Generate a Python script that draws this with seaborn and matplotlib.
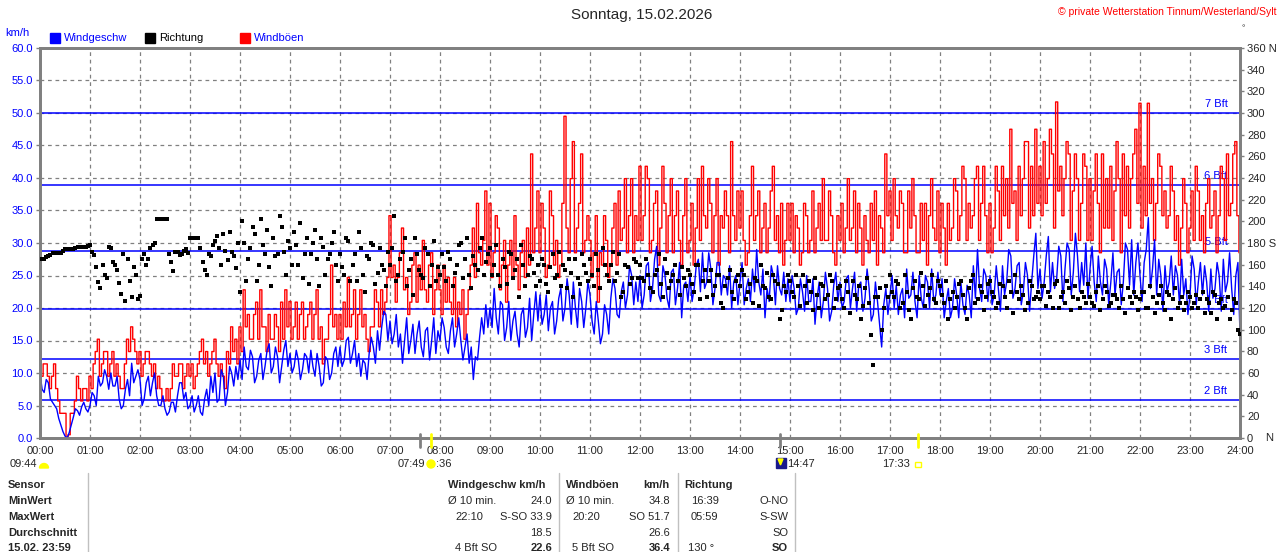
import numpy as np
import pandas as pd
import matplotlib
matplotlib.use("Agg")
import matplotlib.pyplot as plt
import seaborn as sns

# readings every 5 minutes (hh:00, hh:05 ...), one row per hour, plus the 24:00 value
speed = [
    10, 7, 8.5, 5.5, 4.5, 2, 0.3, 0.8, 3.2, 4.2, 4.8, 4.5,
    5, 6.5, 9.5, 8.5, 9.5, 10, 8, 6, 5, 9, 11.5, 9.5,
    9, 6, 9.5, 8.5, 6.5, 5, 4.5, 4, 5.5, 6.5, 8.5, 7,
    5, 4, 6.5, 3.5, 7.5, 9.5, 10, 6, 9.5, 7, 10, 11,
    12, 14, 10.5, 12.5, 9.5, 13, 11, 14.5, 11, 12.5, 11, 15,
    13, 11, 12, 10.5, 12.5, 13.5, 9.5, 11, 8.5, 12, 10, 14,
    14, 12, 15.5, 13, 11, 9.5, 11.5, 13, 14, 16.5, 17, 19,
    18, 16, 14, 11.5, 18.5, 15, 13, 18, 12.5, 17, 15, 13,
    15, 17, 13, 18.5, 16, 15, 14, 11.5, 9, 12, 18.5, 20.5,
    20, 23, 16, 20.5, 17, 15, 19.5, 14, 20, 17, 15, 22.5,
    22, 19, 16.5, 21, 18, 23, 20, 22, 24, 17, 21, 20,
    22, 16, 18, 16, 19, 21.5, 23, 18.5, 24, 22, 25, 24,
    25, 22, 27, 23, 29.5, 21, 25, 20, 26, 23, 18.5, 24,
    25, 23, 27.5, 28.5, 24, 26, 23, 27, 25, 22, 20, 25,
    24, 20.5, 24.5, 26, 29, 22, 18.5, 21, 25, 26.5, 22, 21,
    21, 23, 20, 22.5, 25, 21, 17.5, 24, 21, 23, 19.5, 25.5,
    24, 21, 25, 23, 19.5, 24, 21.5, 23, 19, 21, 14, 23,
    22, 20, 19, 23, 26, 22, 21, 25, 20, 24, 26, 22,
    22, 18.5, 23, 20, 22, 24, 19, 22, 26.5, 29, 21, 25,
    25, 22, 23, 26.5, 24, 28, 23, 27, 22.5, 25, 24, 31.5,
    26, 24, 31, 27, 24.5, 28, 26, 29, 25.5, 28, 27, 30,
    26, 24, 28, 22, 26, 24, 22, 26, 24, 29, 30.5, 27,
    25, 27, 33.9, 26, 22, 25, 26.5, 24, 22, 25, 27.5, 24.5,
    22, 26, 24, 22, 24, 26, 23, 25, 27.5, 24, 23, 25,
    16,
]
# readings in between (hh:02.5, hh:07.5 ...)
speed_mid = [
    7.5, 9, 6, 5, 3, 1, 0, 2, 4.5, 3.5, 5.5, 4,
    7, 5, 8, 10.5, 7.5, 8, 9.5, 4.5, 7.5, 6.5, 8.5, 10.5,
    5, 8.5, 6.5, 10, 5, 6.5, 3.5, 5.5, 4, 8.5, 6, 4.5,
    6.5, 5, 4, 6, 5, 7, 5.5, 10.5, 5, 11, 8, 9,
    9, 11, 13.5, 8.5, 12, 9, 13.5, 10, 14, 8.5, 13.5, 11,
    10, 13.5, 9, 13, 10, 11, 13, 8, 12.5, 9, 13, 11,
    11, 15, 11.5, 15, 13, 12, 9, 15.5, 11.5, 13.5, 19.5, 15,
    14.5, 19, 16, 15, 13, 17.5, 16, 14, 16.5, 12, 18.5, 16.5,
    18.5, 14, 16.5, 14, 18.5, 12, 16, 14, 12.5, 15.5, 16, 17,
    17, 18.5, 21, 15, 21, 18, 16, 19, 15.5, 21.5, 19, 18,
    17.5, 22, 20, 16, 21.5, 18, 24.5, 17.5, 20, 23, 17, 24,
    18, 21, 14.5, 20.5, 16, 24.5, 19, 22.5, 20, 26.5, 20.5, 21,
    20, 26.5, 21, 27.5, 22, 26.5, 21.5, 25.5, 20.5, 27, 23.5, 21,
    21, 26.5, 22.5, 23, 28.5, 20.5, 27, 22, 24.5, 26.5, 24, 20.5,
    27, 23, 21, 22.5, 24, 26, 23, 26.5, 20.5, 23, 25.5, 24.5,
    25, 19, 24.5, 19.5, 21, 24.5, 21.5, 18.5, 25.5, 18, 23.5, 21,
    20, 24.5, 20, 25.5, 23.5, 19.5, 26, 18, 24, 17.5, 20.5, 19,
    25, 23.5, 22, 18.5, 21.5, 25.5, 18.5, 21.5, 25, 20, 21, 25.5,
    24.5, 21, 18.5, 24.5, 18.5, 20.5, 23.5, 18.5, 21.5, 23, 26, 21,
    20.5, 26.5, 19.5, 22, 29, 21.5, 26.5, 20.5, 27, 19.5, 28, 23,
    21.5, 28, 22.5, 23, 29.5, 21, 30, 22, 31.5, 22.5, 23.5, 21.5,
    29.5, 21, 24, 27.5, 20.5, 28.5, 25.5, 20.5, 30, 23.5, 22, 30,
    21, 29, 23, 30.5, 27.5, 19.5, 22.5, 28, 26.5, 20.5, 22, 19,
    28, 20.5, 27, 26.5, 19.5, 21.5, 27, 19.5, 22.5, 28.5, 19, 27,
]

gust = [
    13.3, 11.4, 9.5, 9.5, 7.6, 3.8, 3.8, 0.5, 3.8, 9.5, 5.7, 7.6,
    9.5, 11.4, 15.2, 11.4, 13.3, 11.4, 9.5, 9.5, 7.6, 15.2, 17.1, 13.3,
    13.3, 11.4, 13.3, 9.5, 7.6, 7.6, 5.7, 5.7, 11.4, 9.5, 11.4, 9.5,
    9.5, 7.6, 11.4, 15.2, 13.3, 11.4, 15.2, 9.5, 9.5, 13.3, 17.1, 15.2,
    17.1, 22.8, 19, 15.2, 20.9, 22.8, 17.1, 19, 15.2, 17.1, 20.9, 22.8,
    21, 17.1, 15.2, 20.9, 17.1, 20.9, 19, 15.2, 11.4, 15.2, 26.6, 19,
    19, 20.9, 24.7, 19, 15.2, 22.8, 19, 13.3, 17.1, 20.9, 22.8, 20.9,
    34.2, 26.6, 24.7, 32.3, 24.7, 20.9, 28.5, 26.6, 30.4, 20.9, 28.5, 22.8,
    22.8, 26.6, 24.7, 19, 17.1, 19, 15.2, 22.8, 32.3, 36.1, 26.6, 38,
    36.1, 28.5, 32.3, 26.6, 20.9, 30.4, 34.2, 22.8, 30.4, 32.3, 43.7, 32.3,
    28.5, 32.3, 26.6, 34.2, 30.4, 26.6, 49.5, 28.5, 45.6, 32.3, 43.7, 30.4,
    30.4, 28.5, 20.9, 26.6, 30.4, 26.6, 36.1, 38, 32.3, 28.5, 39.9, 34.2,
    41.8, 34.2, 39.9, 30.4, 38, 32.3, 36.1, 34.2, 28.5, 38, 26.6, 39.9,
    30.4, 26.6, 39.9, 41.8, 32.3, 36.1, 34.2, 26.6, 32.3, 34.2, 45.6, 30.4,
    32.3, 30.4, 28.5, 41.8, 34.2, 28.5, 36.1, 32.3, 41.8, 34.2, 36.1, 30.4,
    30.4, 28.5, 32.3, 28.5, 34.2, 30.4, 28.5, 36.1, 39.9, 30.4, 34.2, 26.6,
    30.4, 28.5, 39.9, 32.3, 28.5, 32.3, 34.2, 28.5, 30.4, 26.6, 32.3, 43.7,
    38, 39.9, 32.3, 36.1, 28.5, 32.3, 34.2, 28.5, 30.4, 26.6, 39.9, 30.4,
    28.5, 32.3, 36.1, 32.3, 38, 34.2, 39.9, 36.1, 34.2, 41.8, 36.1, 34.2,
    36.1, 32.3, 38, 41.8, 39.9, 47.5, 38, 41.8, 39.9, 45.6, 41.8, 47.5,
    41.8, 45.6, 39.9, 43.7, 51.7, 41.8, 39.9, 43.7, 38, 39.9, 36.1, 41.8,
    39.9, 38, 36.1, 43.7, 39.9, 41.8, 38, 39.9, 43.7, 41.8, 39.9, 47.5,
    51.5, 41.8, 51.5, 39.9, 36.1, 41.8, 38, 34.2, 38, 34.2, 32.3, 36.1,
    32.3, 30.4, 38, 34.2, 36.1, 32.3, 38, 34.2, 39.9, 43.7, 36.1, 45.6,
    28.5,
]
gust_mid = [
    9.5, 11.4, 7.6, 11.4, 5.7, 3.8, 0, 3.8, 5.7, 7.6, 7.6, 5.7,
    7.6, 13.3, 9.5, 13.3, 9.5, 13.3, 11.4, 7.6, 11.4, 13.3, 15.2, 11.4,
    9.5, 13.3, 11.4, 11.4, 9.5, 5.7, 7.6, 7.6, 9.5, 11.4, 7.6, 11.4,
    11.4, 9.5, 13.3, 11.4, 9.5, 13.3, 11.4, 11.4, 7.6, 11.4, 13.3, 11.4,
    13.3, 17.1, 15.2, 19, 15.2, 17.1, 13.3, 15.2, 19, 13.3, 15.2, 17.1,
    15.2, 20.9, 19, 15.2, 19, 15.2, 22.8, 17.1, 15.2, 19, 17.1, 15.2,
    15.2, 17.1, 17.1, 22.8, 19, 17.1, 15.2, 17.1, 22.8, 17.1, 19, 24.7,
    24.7, 20.9, 28.5, 22.8, 19, 26.6, 20.9, 22.8, 22.8, 26.6, 19, 26.6,
    19, 20.9, 20.9, 24.7, 20.9, 22.8, 19, 26.6, 24.7, 28.5, 30.4, 26.6,
    24.7, 34.2, 22.8, 30.4, 26.6, 24.7, 26.6, 28.5, 24.7, 26.6, 28.5, 38,
    36.1, 24.7, 38, 26.6, 24.7, 36.1, 32.3, 39.9, 28.5, 36.1, 28.5, 34.2,
    24.7, 34.2, 28.5, 34.2, 24.7, 32.3, 26.6, 30.4, 39.9, 34.2, 28.5, 30.4,
    30.4, 41.8, 28.5, 36.1, 26.6, 41.8, 28.5, 39.9, 34.2, 30.4, 34.2, 28.5,
    36.1, 32.3, 30.4, 34.2, 39.9, 28.5, 39.9, 34.2, 38, 28.5, 34.2, 38,
    38, 26.6, 34.2, 30.4, 38, 32.3, 28.5, 38, 30.4, 28.5, 26.6, 36.1,
    36.1, 34.2, 26.6, 36.1, 28.5, 38, 32.3, 30.4, 30.4, 38, 28.5, 34.2,
    36.1, 32.3, 30.4, 38, 36.1, 26.6, 30.4, 36.1, 38, 34.2, 28.5, 34.2,
    30.4, 34.2, 38, 28.5, 38, 39.9, 28.5, 36.1, 36.1, 34.2, 32.3, 38,
    36.1, 26.6, 30.4, 39.9, 30.4, 41.8, 30.4, 32.3, 39.9, 30.4, 41.8, 28.5,
    28.5, 41.8, 30.4, 34.2, 32.3, 36.1, 30.4, 34.2, 45.6, 32.3, 34.2, 36.1,
    34.2, 36.1, 47.5, 32.3, 38, 34.2, 45.6, 30.4, 43.7, 30.4, 43.7, 30.4,
    30.4, 43.7, 28.5, 32.3, 32.3, 30.4, 45.6, 28.5, 34.2, 32.3, 43.7, 36.1,
    32.3, 34.2, 36.1, 30.4, 43.7, 34.2, 32.3, 41.8, 30.4, 26.6, 39.9, 28.5,
    38, 41.8, 30.4, 28.5, 39.9, 34.2, 28.5, 41.8, 30.4, 34.2, 43.7, 34.2,
]

# wind direction in degrees
direction = [
    165, 165, 168, 171, 171, 171, 174, 174, 174, 176, 176, 176,
    178, 169, 144, 160, 148, 175, 160, 143, 170, 165, 130, 150,
    131, 170, 165, 178, 202, 202, 202, 170, 154, 172, 170, 174,
    185, 185, 185, 162, 150, 168, 182, 175, 188, 164, 172, 157,
    135, 180, 165, 195, 145, 202, 170, 158, 185, 170, 195, 150,
    175, 190, 160, 148, 185, 170, 192, 140, 176, 165, 180, 160,
    170, 150, 182, 160, 145, 175, 135, 165, 178, 152, 160, 140,
    160, 205, 150, 172, 140, 165, 185, 155, 148, 170, 160, 145,
    150, 158, 172, 140, 160, 180, 165, 150, 168, 155, 185, 162,
    175, 160, 150, 165, 142, 170, 155, 130, 160, 150, 165, 140,
    145, 160, 135, 170, 150, 140, 155, 165, 130, 148, 170, 152,
    165, 140, 155, 175, 150, 160, 145, 170, 135, 158, 148, 162,
    160, 145, 150, 135, 155, 142, 165, 138, 150, 145, 158, 140,
    150, 135, 160, 145, 130, 155, 140, 150, 120, 148, 135, 145,
    140, 150, 135, 125, 145, 160, 138, 130, 150, 142, 118, 135,
    145, 130, 140, 150, 125, 135, 148, 120, 140, 132, 145, 128,
    140, 120, 135, 145, 128, 110, 138, 125, 67, 130, 100, 140,
    150, 130, 142, 125, 135, 110, 145, 128, 140, 132, 150, 125,
    140, 125, 110, 135, 130, 145, 120, 138, 150, 128, 135, 130,
    145, 130, 125, 140, 120, 135, 150, 128, 132, 125, 140, 130,
    128, 140, 135, 120, 145, 130, 125, 138, 130, 128, 135, 125,
    130, 122, 140, 128, 135, 125, 132, 120, 128, 138, 125, 130,
    128, 135, 120, 130, 125, 140, 118, 132, 128, 120, 130, 125,
    130, 125, 120, 135, 128, 115, 132, 125, 120, 130, 118, 125,
    96,
]
direction_mid = [
    165, 167, 169, 171, 171, 173, 174, 174, 175, 176, 176, 177,
    172, 158, 138, 150, 176, 162, 155, 133, 126, 145, 158, 128,
    165, 160, 175, 180, 202, 202, 202, 162, 172, 169, 173, 171,
    185, 185, 175, 155, 170, 178, 186, 160, 173, 190, 168, 180,
    200, 145, 175, 188, 160, 178, 192, 140, 168, 205, 172, 182,
    160, 178, 198, 170, 142, 180, 165, 185, 150, 170, 190, 145,
    158, 185, 145, 170, 190, 150, 168, 180, 142, 175, 155, 172,
    175, 145, 165, 185, 155, 132, 170, 150, 175, 140, 182, 158,
    170, 145, 165, 152, 178, 148, 185, 138, 160, 175, 150, 170,
    150, 178, 140, 158, 172, 148, 165, 178, 140, 168, 152, 160,
    165, 142, 158, 148, 172, 160, 138, 152, 165, 142, 160, 145,
    150, 170, 138, 160, 145, 172, 152, 130, 160, 142, 165, 148,
    148, 165, 138, 150, 170, 130, 152, 145, 160, 132, 148, 155,
    142, 160, 128, 155, 145, 132, 150, 125, 140, 155, 128, 150,
    155, 128, 142, 148, 122, 140, 152, 128, 145, 110, 140, 150,
    135, 150, 122, 140, 145, 118, 132, 142, 128, 150, 120, 138,
    128, 145, 115, 132, 140, 122, 148, 95, 130, 138, 120, 130,
    135, 145, 120, 150, 118, 138, 130, 152, 122, 138, 128, 145,
    132, 145, 128, 120, 142, 132, 110, 145, 125, 140, 118, 142,
    135, 120, 142, 130, 145, 115, 135, 140, 118, 145, 128, 135,
    140, 122, 130, 142, 120, 135, 145, 118, 140, 120, 130, 142,
    125, 135, 118, 140, 122, 132, 128, 140, 115, 130, 135, 118,
    135, 120, 140, 115, 132, 125, 135, 110, 138, 125, 118, 135,
    120, 132, 128, 115, 125, 135, 110, 128, 122, 110, 128, 100,
]

bft_levels = [5.8, 12.2, 19.8, 28.8, 38.9, 50.0]
bft_names = ["2 Bft", "3 Bft", "4 Bft", "5 Bft", "6 Bft", "7 Bft"]
hour_labels = ["%02d:00" % h for h in range(25)]

# merge the two sampling grids into one time series
df_main = pd.DataFrame({"minute": np.arange(len(speed)) * 5.0,
                        "speed": speed, "gust": gust, "dir": direction})
df_mid = pd.DataFrame({"minute": np.arange(len(speed_mid)) * 5.0 + 2.5,
                       "speed": speed_mid, "gust": gust_mid, "dir": direction_mid})
df = pd.concat([df_main, df_mid]).sort_values("minute").reset_index(drop=True)

W, H = 1280, 552
sns.set_style("white")
plt.rcParams["font.family"] = ["Liberation Sans", "DejaVu Sans"]

fig = plt.figure(figsize=(W / 100, H / 100), dpi=100)
ax = fig.add_axes([40 / W, 1 - 438 / H, 1200 / W, 390 / H])

gray = "#808080"
blue = "#0000ff"
yellow = "#ffff00"

# grid
for m in range(60, 1440, 60):
    ax.axvline(m, color=gray, lw=0.9, ls=(0, (3, 3)), zorder=0)
for v in range(5, 60, 5):
    ax.axhline(v, color=gray, lw=0.9, ls=(0, (3, 3)), zorder=0)

# Beaufort lines
for lev, name in zip(bft_levels, bft_names):
    ax.axhline(lev, color=blue, lw=1.1, zorder=1)
    ax.text(1425, lev + 0.6, name, color=blue, fontsize=8, ha="right", va="bottom", zorder=1)

sns.lineplot(data=df, x="minute", y="gust", color="#ff0000", lw=1.0,
             drawstyle="steps-mid", ax=ax, zorder=2)
sns.lineplot(data=df, x="minute", y="speed", color=blue, lw=1.0, ax=ax, zorder=3)

ax.set_xlim(0, 1440)
ax.set_ylim(0, 60)
ax.set_xlabel("")
ax.set_ylabel("")
ax.set_xticks(np.arange(0, 1441, 60))
ax.set_xticklabels(hour_labels, fontsize=8)
ax.set_yticks(np.arange(0, 61, 5))
ax.set_yticklabels(["%.1f" % v for v in np.arange(0, 61, 5)], fontsize=8, color=blue)
ax.tick_params(axis="both", length=3, width=1, color=gray, pad=2, direction="out")
ax.tick_params(axis="x", pad=3)

ax2 = ax.twinx()
sns.scatterplot(data=df, x="minute", y="dir", color="black", marker="s", s=5,
                linewidth=0, ax=ax2, zorder=4)
ax2.set_ylim(0, 360)
ax2.set_xlim(0, 1440)
ax2.set_ylabel("")
rticks = np.arange(0, 361, 20)
rlabels = [str(t) for t in rticks]
rlabels[-1] = "360 N"
rlabels[9] = "180 S"
ax2.set_yticks(rticks)
ax2.set_yticklabels(rlabels, fontsize=8)
ax2.tick_params(axis="y", length=3, width=1, color=gray, pad=2)

for a in (ax, ax2):
    for s in a.spines.values():
        s.set_color(gray)
        s.set_linewidth(2)


def ftext(x, y, s, **kw):
    fig.text(x / W, 1 - y / H, s, va="center", **kw)


def px(x, y):
    # pixel position (from top-left) in inches for dpi_scale_trans
    return x / 100, (H - y) / 100


ftext(1265, 438, "N", fontsize=8)

# header
ftext(642, 15, "Sonntag, 15.02.2026", fontsize=11, ha="center")
ftext(1277, 12, "\u00a9 private Wetterstation Tinnum/Westerland/Sylt", fontsize=7.5,
      ha="right", color="#ff0000")
ftext(1242, 29, "\u00b0", fontsize=6)
ftext(5, 33, "km/h", fontsize=8, color=blue)

legend_items = [(50, blue, "Windgeschw", blue), (145, "black", "Richtung", "black"),
                (240, "#ff0000", "Windböen", blue)]
for x0, c, label, tc in legend_items:
    fig.patches.append(plt.Rectangle(px(x0, 43), 0.10, 0.10,
                                     transform=fig.dpi_scale_trans, color=c, figure=fig))
    ftext(x0 + 14, 38, label, fontsize=8, color=tc)

# sun / moon markers below the time axis
for xm, c in [(420, gray), (430.5, yellow), (780, gray), (917.5, yellow)]:
    fig.add_artist(plt.Line2D([xm / W, xm / W], [1 - 434 / H, 1 - 447 / H],
                              color=c, lw=2, transform=fig.transFigure))
ftext(10, 464, "09:44", fontsize=8)
fig.patches.append(matplotlib.patches.Wedge(px(44, 468), 0.045, 0, 180,
                                            transform=fig.dpi_scale_trans, color=yellow))
ftext(398, 464, "07:49", fontsize=8)
fig.patches.append(matplotlib.patches.Circle(px(431, 464), 0.04,
                                             transform=fig.dpi_scale_trans, color=yellow))
ftext(436, 464, ":36", fontsize=8)
fig.patches.append(plt.Rectangle(px(775.5, 468), 0.105, 0.10,
                                 transform=fig.dpi_scale_trans, color="#1a1a8c"))
fig.patches.append(matplotlib.patches.Polygon(
    [px(778, 459), px(783, 459), px(780.5, 465)], closed=True,
    transform=fig.dpi_scale_trans, color=yellow))
ftext(787, 464, "14:47", fontsize=8)
ftext(882, 464, "17:33", fontsize=8)
fig.patches.append(plt.Rectangle(px(915.5, 467), 0.05, 0.05,
                                 transform=fig.dpi_scale_trans, fill=False,
                                 edgecolor=yellow, lw=1))

# statistics table
rows_y = [485, 501, 517, 533, 548]
for y, s in zip(rows_y, ["Sensor", "MinWert", "MaxWert", "Durchschnitt", "15.02. 23:59"]):
    ftext(8, y, s, fontsize=8, fontweight="bold")
for xs in [88, 559, 677.5, 795]:
    fig.add_artist(plt.Line2D([xs / W, xs / W], [1 - 473 / H, 0],
                              color="#c0c0c0", lw=1, transform=fig.transFigure))

cells = [
    (448, 485, "Windgeschw km/h", "left", "bold"),
    (448, 501, "Ø 10 min.", "left", "normal"), (552, 501, "24.0", "right", "normal"),
    (455, 517, "22:10", "left", "normal"), (552, 517, "S-SO 33.9", "right", "normal"),
    (552, 533, "18.5", "right", "normal"),
    (455, 548, "4 Bft SO", "left", "normal"), (552, 548, "22.6", "right", "bold"),
    (566, 485, "Windböen", "left", "bold"), (670, 485, "km/h", "right", "bold"),
    (566, 501, "Ø 10 min.", "left", "normal"), (670, 501, "34.8", "right", "normal"),
    (572, 517, "20:20", "left", "normal"), (670, 517, "SO 51.7", "right", "normal"),
    (670, 533, "26.6", "right", "normal"),
    (572, 548, "5 Bft SO", "left", "normal"), (670, 548, "36.4", "right", "bold"),
    (684, 485, "Richtung", "left", "bold"),
    (691, 501, "16:39", "left", "normal"), (788, 501, "O-NO", "right", "normal"),
    (691, 517, "05:59", "left", "normal"), (788, 517, "S-SW", "right", "normal"),
    (788, 533, "SO", "right", "normal"),
    (688, 548, "130 °", "left", "normal"), (788, 548, "SO", "right", "bold"),
]
for x, y, s, ha, fw in cells:
    ftext(x, y, s, fontsize=8, ha=ha, fontweight=fw)

fig.savefig("out.png", dpi=100)
